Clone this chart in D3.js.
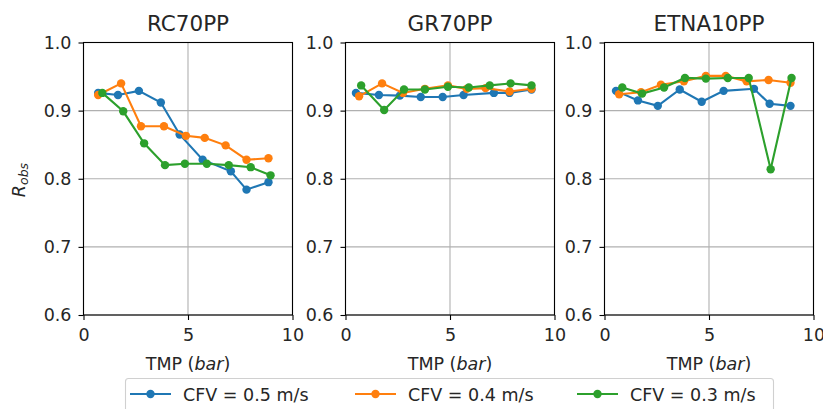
<!DOCTYPE html>
<html>
<head>
<meta charset="utf-8">
<script src="https://cdn.jsdelivr.net/npm/d3@7"></script>
<style>
  body { margin: 0; background: #fff; }
  svg text { font-family: "DejaVu Sans", sans-serif; fill: #262626; }
</style>
</head>
<body>
<div id="chart"></div>
<script>
const width = 823, height = 409

const panels = ['RC70PP', 'GR70PP', 'ETNA10PP']
const series = ['CFV = 0.5 m/s', 'CFV = 0.4 m/s', 'CFV = 0.3 m/s']
const colors = ['#1f77b4', '#ff7f0e', '#2ca02c']
const xTicks = [0, 5, 10]
const yTicks = [0.6, 0.7, 0.8, 0.9, 1.0]

// TMP (bar) and R_obs for each panel, one array per series
const rcTmp = [
  [0.7, 1.65, 2.65, 3.7, 4.6, 5.7, 7.05, 7.8, 8.85],
  [0.7, 1.8, 2.75, 3.85, 4.9, 5.8, 6.8, 7.8, 8.85],
  [0.9, 1.9, 2.9, 3.9, 4.85, 5.9, 6.95, 8.0, 8.95]
]
const rcRobs = [
  [0.926, 0.923, 0.929, 0.912, 0.865, 0.828, 0.811, 0.784, 0.795],
  [0.923, 0.940, 0.877, 0.877, 0.863, 0.860, 0.849, 0.828, 0.830],
  [0.926, 0.899, 0.852, 0.820, 0.822, 0.822, 0.820, 0.817, 0.805]
]
const grTmp = [
  [0.5, 1.6, 2.6, 3.6, 4.65, 5.65, 7.1, 7.85, 8.9],
  [0.65, 1.75, 2.75, 3.8, 4.9, 5.8, 6.7, 7.85, 8.9],
  [0.75, 1.85, 2.8, 3.8, 4.9, 5.9, 6.9, 7.9, 8.9]
]
const grRobs = [
  [0.926, 0.923, 0.922, 0.920, 0.920, 0.923, 0.926, 0.926, 0.931],
  [0.921, 0.940, 0.926, 0.932, 0.937, 0.932, 0.933, 0.928, 0.932],
  [0.937, 0.901, 0.931, 0.931, 0.935, 0.934, 0.937, 0.940, 0.937]
]
const etTmp = [
  [0.55, 1.6, 2.55, 3.6, 4.65, 5.7, 7.15, 7.9, 8.9],
  [0.7, 1.75, 2.7, 3.8, 4.85, 5.8, 6.8, 7.85, 8.9],
  [0.85, 1.8, 2.85, 3.85, 4.85, 5.9, 6.9, 7.95, 8.95]
]
const etRobs = [
  [0.929, 0.915, 0.907, 0.931, 0.913, 0.929, 0.932, 0.910, 0.907],
  [0.924, 0.927, 0.938, 0.943, 0.951, 0.951, 0.943, 0.945, 0.941],
  [0.934, 0.925, 0.934, 0.948, 0.947, 0.948, 0.948, 0.814, 0.948]
]
const tmps = [rcTmp, grTmp, etTmp]
const robs = [rcRobs, grRobs, etRobs]

const panelLeft = [83.5, 345.5, 604.5]
const panelW = 209
const plotTop = 42.5, plotBottom = 315
const fs = 17.5

const svg = d3.select('#chart').append('svg')
  .attr('width', width).attr('height', height)

const y = d3.scaleLinear().domain([0.6, 1.0]).range([plotBottom, plotTop])

panels.forEach((name, p) => {
  const x = d3.scaleLinear().domain([0, 10]).range([panelLeft[p], panelLeft[p] + panelW])
  const g = svg.append('g')

  // grid
  g.selectAll('.vg').data(xTicks).join('line')
    .attr('x1', d => x(d)).attr('x2', d => x(d))
    .attr('y1', plotTop).attr('y2', plotBottom)
    .attr('stroke', '#b0b0b0').attr('stroke-width', 1.1)
  g.selectAll('.hg').data(yTicks).join('line')
    .attr('x1', x(0)).attr('x2', x(10))
    .attr('y1', d => y(d)).attr('y2', d => y(d))
    .attr('stroke', '#b0b0b0').attr('stroke-width', 1.1)

  // axes
  const xAxis = g.append('g').attr('transform', `translate(0,${plotBottom})`)
    .call(d3.axisBottom(x).tickValues(xTicks).tickSize(5).tickPadding(9).tickFormat(d3.format('d')))
  const yAxis = g.append('g').attr('transform', `translate(${x(0)},0)`)
    .call(d3.axisLeft(y).tickValues(yTicks).tickSize(5).tickPadding(7).tickFormat(d3.format('.1f')))
  ;[xAxis, yAxis].forEach(a => {
    a.select('.domain').remove()
    a.selectAll('.tick line').attr('stroke', '#000').attr('stroke-width', 1.1)
    a.selectAll('.tick text').attr('font-size', fs).attr('fill', '#262626')
      .style('font-family', '"DejaVu Sans", sans-serif')
  })

  // series
  const line = d3.line().x(d => x(d[0])).y(d => y(d[1]))
  series.forEach((s, i) => {
    const pts = tmps[p][i].map((t, k) => [t, robs[p][i][k]])
    g.append('path').datum(pts)
      .attr('fill', 'none').attr('stroke', colors[i]).attr('stroke-width', 2.1)
      .attr('d', line)
    g.selectAll(null).data(pts).join('circle')
      .attr('cx', d => x(d[0])).attr('cy', d => y(d[1])).attr('r', 4.2)
      .attr('fill', colors[i])
  })

  // frame
  g.append('rect')
    .attr('x', x(0)).attr('y', plotTop).attr('width', panelW).attr('height', plotBottom - plotTop)
    .attr('fill', 'none').attr('stroke', '#000').attr('stroke-width', 1.1)

  // title
  g.append('text').attr('x', x(5)).attr('y', 31)
    .attr('text-anchor', 'middle').attr('font-size', 21.5).text(name)

  // x label
  const xl = g.append('text').attr('x', x(5)).attr('y', 370)
    .attr('text-anchor', 'middle').attr('font-size', fs)
  xl.append('tspan').text('TMP (')
  xl.append('tspan').attr('font-style', 'italic').text('bar')
  xl.append('tspan').text(')')
})

// y label
const yl = svg.append('text')
  .attr('transform', 'translate(25,180) rotate(-90)')
  .attr('text-anchor', 'middle').attr('font-size', fs)
yl.append('tspan').attr('font-style', 'italic').text('R')
yl.append('tspan').attr('font-style', 'italic').attr('font-size', 12.5).attr('dy', 3).text('obs')

// legend
const legend = svg.append('g')
legend.append('rect')
  .attr('x', 125.5).attr('y', 378.5).attr('width', 648).attr('height', 40).attr('rx', 3)
  .attr('fill', '#fff').attr('stroke', '#d0d0d0').attr('stroke-width', 1.1)
const legX = [130, 355, 577]
series.forEach((s, i) => {
  const lg = legend.append('g').attr('transform', `translate(${legX[i]},394)`)
  lg.append('line').attr('x1', 0).attr('x2', 41)
    .attr('stroke', colors[i]).attr('stroke-width', 2.1)
  lg.append('circle').attr('cx', 20.5).attr('r', 4.2).attr('fill', colors[i])
  lg.append('text').attr('x', 53).attr('y', 7).attr('font-size', fs).text(s)
})
</script>
</body>
</html>
